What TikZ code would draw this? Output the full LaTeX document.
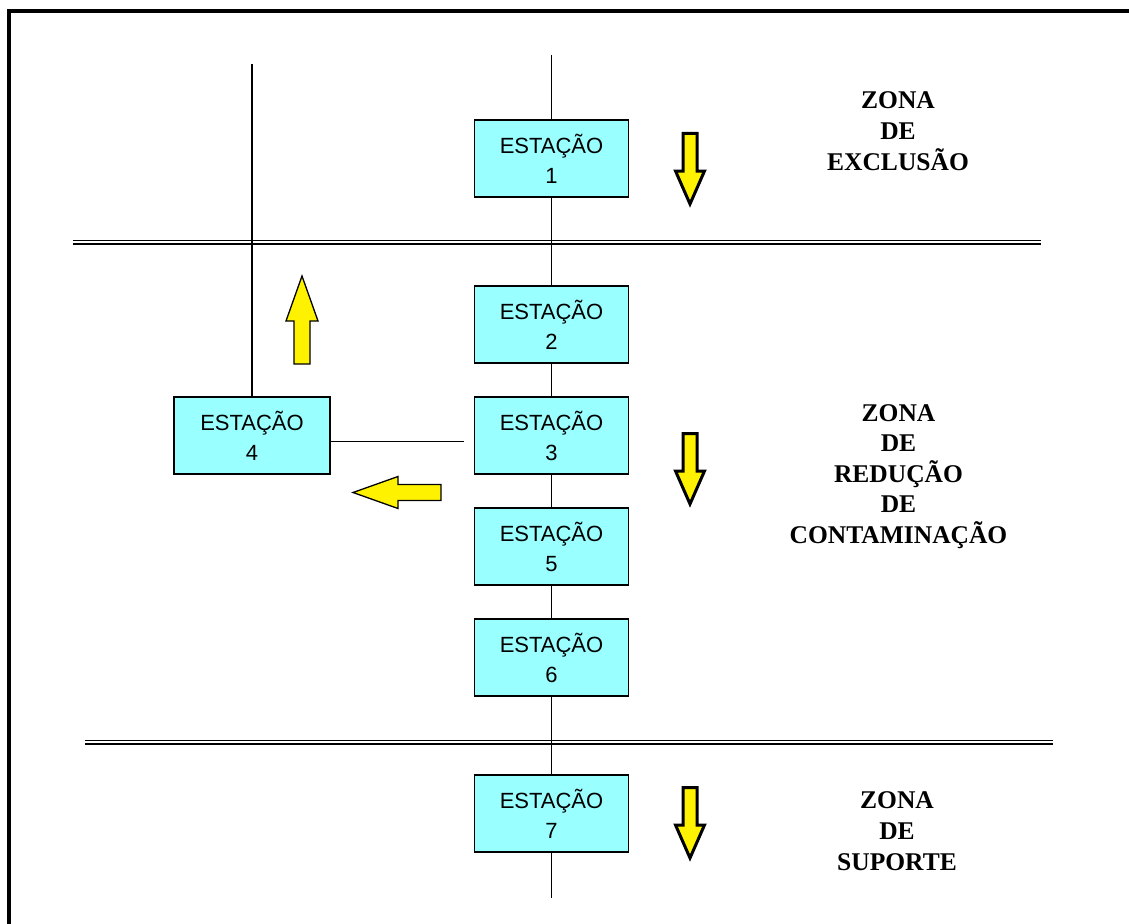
\documentclass[tikz,border=0pt]{standalone}
\usepackage{fontspec}
\setmainfont{Liberation Serif}
\setsansfont{Liberation Sans}
\usetikzlibrary{positioning}
\definecolor{ciano}{HTML}{99FFFF}
\tikzset{
  estacao/.style={draw,line width=1.3pt,fill=ciano,minimum width=154pt,minimum height=77pt,
    inner sep=0pt,align=center,font=\sffamily\fontsize{22}{30}\selectfont},
  zona/.style={anchor=north,inner sep=0pt,align=center,font=\bfseries\fontsize{25.5}{31}\selectfont},
  linha/.style={line width=1.2pt},
  dupla/.style={double,line width=1.3pt,double distance=2.4pt},
  seta/.style={fill=yellow,line width=3pt},
  setafina/.style={fill=yellow,line width=1.3pt},
  setab/.pic={\draw[seta] (-7,1.5) -- (7,1.5) -- (7,39) -- (14.5,39) -- (0,72) -- (-14.5,39) -- (-7,39) -- cycle;},
  setac/.pic={\draw[setafina] (0,0) -- (16,45) -- (8,45) -- (8,88) -- (-8,88) -- (-8,45) -- (-16,45) -- cycle;},
}
\begin{document}
\begin{tikzpicture}[x=1pt,y=-1pt]
  \useasboundingbox (0,0) rectangle (1129,923);
  \begin{scope}
    \clip (0,0) rectangle (1129,923);
    \draw[line width=4pt] (9,11) rectangle (1300,1100);
  \end{scope}
  % zonas
  \draw[dupla] (73,242) -- (1041,242);
  \draw[dupla] (85,742) -- (1053,742);
  % estacoes
  \coordinate (topo) at (551.5,55);
  \coordinate (fundo) at (551.5,898);
  \coordinate (topo4) at (252,64);
  \coordinate (liga) at (464,441.5);
  \foreach \n/\y in {1/158.5,2/324.5,3/435.5,5/546.5,6/657.5,7/813.5}
    \node[estacao] (e\n) at (551.5,\y) {ESTAÇÃO\\\n};
  \node[estacao,minimum width=156pt] (e4) at (252,435.5) {ESTAÇÃO\\4};
  \draw[linha] (topo) -- (e1);
  \draw[linha] (e1) -- (e2);
  \draw[linha] (e2) -- (e3);
  \draw[linha] (e3) -- (e5);
  \draw[linha] (e5) -- (e6);
  \draw[linha] (e6) -- (e7);
  \draw[linha] (e7) -- (fundo);
  \draw[linha] (topo4) -- (e4);
  \draw[linha] (e4.east |- liga) -- (liga);
  % setas
  \pic at (690,132) {setab};
  \pic at (690,432) {setab};
  \pic at (690,786) {setab};
  \pic at (302,276) {setac};
  \pic[rotate=90] at (353,492.5) {setac};
  % textos
  \node[zona] (z1) at (898,91) {ZONA\\DE\\EXCLUSÃO};
  \node[zona,font=\bfseries\fontsize{25.5}{30.5}\selectfont] (z2) at (898.5,404) {ZONA\\DE\\REDUÇÃO\\DE\\CONTAMINAÇÃO};
  \node[zona] (z3) at (897,791) {ZONA\\DE\\SUPORTE};
\end{tikzpicture}
\end{document}
